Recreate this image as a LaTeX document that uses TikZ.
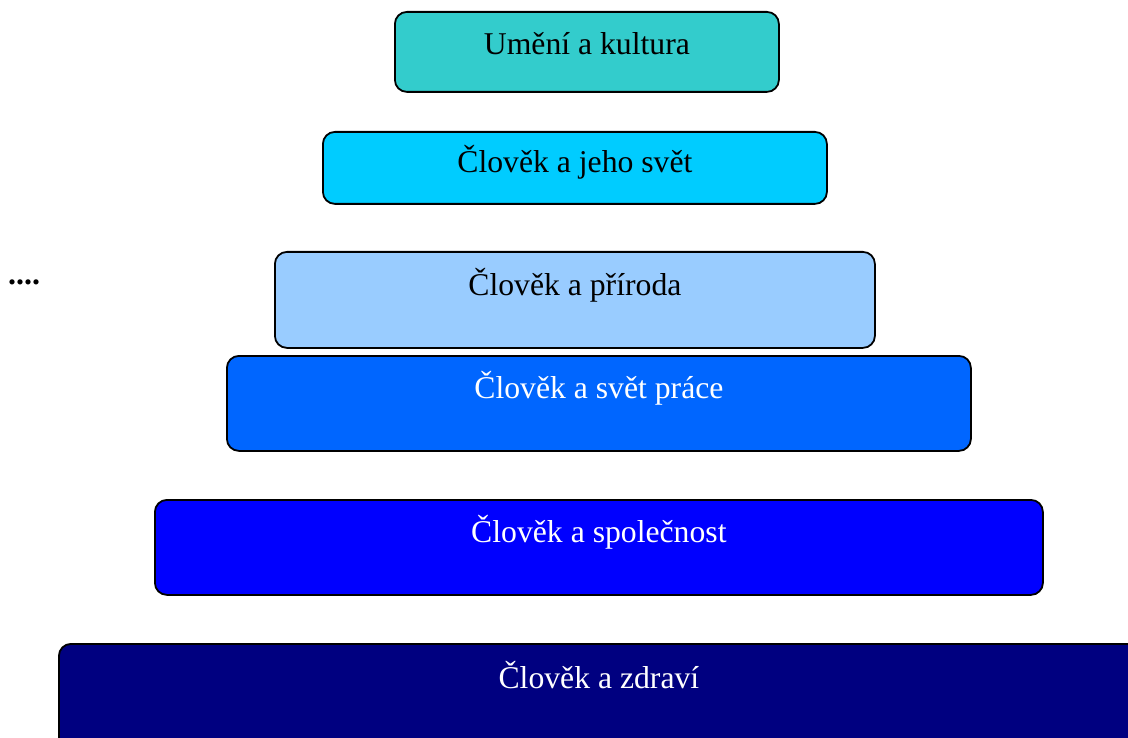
\documentclass[tikz,border=0pt]{standalone}
\usepackage{fontspec}
\setmainfont{Liberation Serif}

\definecolor{kultura}{HTML}{33CCCC}
\definecolor{svet}{HTML}{00CCFF}
\definecolor{priroda}{HTML}{99CCFF}
\definecolor{prace}{HTML}{0066FF}
\definecolor{spolecnost}{HTML}{0000FF}
\definecolor{zdravi}{HTML}{000080}

\begin{document}
\begin{tikzpicture}[x=1pt, y=-1pt,
        tier/.style={draw=black, line width=1.8pt, rounded corners=12pt, anchor=north west, inner sep=0pt},
        tiertext/.style={anchor=base, inner sep=0pt, font=\fontsize{31.7}{38}\selectfont}]
        \useasboundingbox (0,0) rectangle (1128,738);
        \clip (0,0) rectangle (1128,738);

        \node[tier, fill=kultura, minimum width=384pt, minimum height=80pt] (kultura) at (394,11) {};
        \node[tier, fill=svet, minimum width=504pt, minimum height=72pt] (svet) at (322,131) {};
        \node[tier, fill=priroda, minimum width=600pt, minimum height=96pt] (priroda) at (274,251) {};
        \node[tier, fill=prace, minimum width=744pt, minimum height=95pt] (prace) at (226,355) {};
        \node[tier, fill=spolecnost, minimum width=888pt, minimum height=95pt] (spolecnost) at (154,499) {};
        \node[tier, fill=zdravi, minimum width=1080pt, minimum height=107pt] (zdravi) at (58,643) {};

        \node[tiertext] (kulturaText) at ([yshift=-44pt]kultura.north) {Umění a kultura};
        \node[tiertext] (svetText) at ([yshift=-42pt]svet.north) {Člověk a jeho svět};
        \node[tiertext] (prirodaText) at ([yshift=-44pt]priroda.north) {Člověk a příroda};
        \node[tiertext, text=white] (praceText) at ([yshift=-43pt]prace.north) {Člověk a svět práce};
        \node[tiertext, text=white] (spolecnostText) at ([yshift=-43pt]spolecnost.north) {Člověk a společnost};
        \node[tiertext, text=white] (zdraviText) at ([yshift=-45pt]zdravi.north) {Člověk a zdraví};

        \node[anchor=base west, inner sep=0pt, font=\fontsize{32}{36}\selectfont\bfseries] (dots) at (8,285) {....};
    \end{tikzpicture}
\end{document}
